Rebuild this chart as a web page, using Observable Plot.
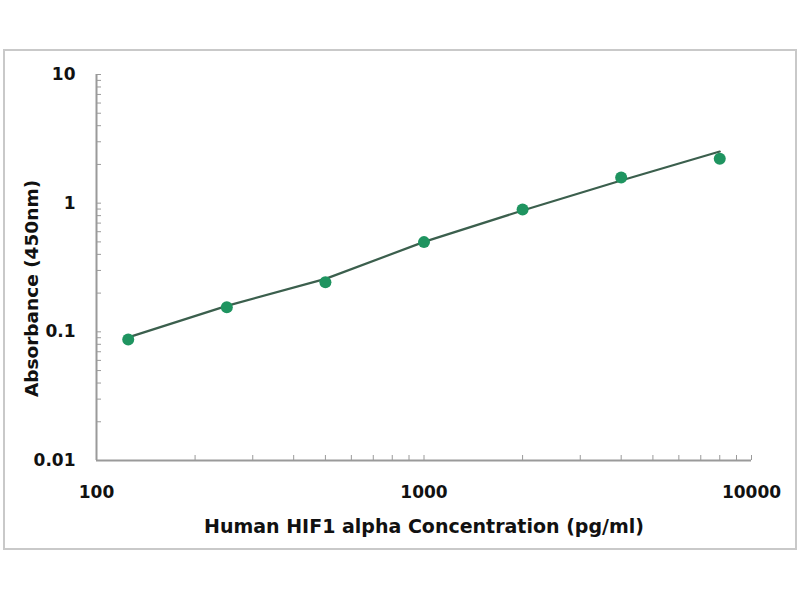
<!DOCTYPE html>
<html>
<head>
<meta charset="utf-8">
<script src="https://cdn.jsdelivr.net/npm/d3@7"></script>
<script src="https://cdn.jsdelivr.net/npm/@observablehq/plot@0.6"></script>
<style>
  html, body { margin: 0; padding: 0; background: #fff; }
  #wrap { position: relative; width: 800px; height: 600px; }
  #border { position: absolute; left: 3px; top: 49px; width: 790px; height: 497px; border: 2px solid #c9c9c9; }
  #chart { position: absolute; left: 0; top: 0; }
</style>
</head>
<body>
<div id="wrap"><div id="border"></div><div id="chart"></div></div>
<script>
// Measured standards
const concentration = [125, 250, 500, 1000, 2000, 4000, 8000];
const absorbance = [0.087, 0.155, 0.243, 0.498, 0.893, 1.58, 2.21];
// Fitted curve as drawn
const fitConcentration = [125, 250, 500, 1000, 2000, 4000, 8000];
const fitAbsorbance = [0.0905, 0.159, 0.258, 0.50, 0.877, 1.50, 2.52];

const xDomain = [100, 10000];
const yDomain = [0.01, 10];
const xTickValues = [100, 1000, 10000];
const xTickLabels = ["100", "1000", "10000"];
const yTickValues = [0.01, 0.1, 1, 10];
const yTickLabels = ["0.01", "0.1", "1", "10"];
const xMinor = [200,300,400,500,600,700,800,900,1000,2000,3000,4000,5000,6000,7000,8000,9000,10000];
const yMinor = [0.02,0.03,0.04,0.05,0.06,0.07,0.08,0.09,0.1,0.2,0.3,0.4,0.5,0.6,0.7,0.8,0.9,1,2,3,4,5,6,7,8,9,10];
const xTitle = "Human HIF1 alpha Concentration (pg/ml)";
const yTitle = "Absorbance (450nm)";

const points = concentration.map((c, i) => ({c, a: absorbance[i]}));
const fit = fitConcentration.map((c, i) => ({c, a: fitAbsorbance[i]}));

const W = 800, H = 600;
const mL = 96, mR = 49, mT = 74, mB = 140;
const frameW = W - mL - mR, frameH = H - mT - mB;
const axisColor = "#9a9a9a";

const chart = Plot.plot({
  width: W, height: H,
  marginLeft: mL, marginRight: mR, marginTop: mT, marginBottom: mB,
  style: { fontFamily: "'DejaVu Sans', sans-serif", fontWeight: "bold", background: "transparent", color: "#111" },
  x: { type: "log", domain: xDomain },
  y: { type: "log", domain: yDomain },
  marks: [
    Plot.axisX({ticks: xTickValues, tickFormat: (d) => xTickLabels[xTickValues.indexOf(d)], tickSize: 0, tickPadding: 25, fontSize: 17, label: null}),
    Plot.axisY({ticks: yTickValues, tickFormat: (d) => yTickLabels[yTickValues.indexOf(d)], tickSize: 0, tickPadding: 21, fontSize: 17, label: null}),
    Plot.tickY(yMinor, {y: d => d, stroke: axisColor, strokeWidth: 1, insetRight: frameW - 5}),
    Plot.tickX(xMinor, {x: d => d, stroke: axisColor, strokeWidth: 1, insetTop: frameH - 5}),
    Plot.ruleX([xDomain[0]], {stroke: axisColor, strokeWidth: 2}),
    Plot.ruleY([yDomain[0]], {stroke: axisColor, strokeWidth: 2}),
    Plot.line(fit, {x: "c", y: "a", stroke: "#3b5f4d", strokeWidth: 2.2}),
    Plot.dot(points, {x: "c", y: "a", r: 6, fill: "#1f9460", stroke: "none"}),
    Plot.text([xTitle], {frameAnchor: "bottom", dy: 72, text: d => d, fontSize: 19, fontWeight: "bold", fill: "#111"}),
    Plot.text([yTitle], {frameAnchor: "left", textAnchor: "middle", rotate: -90, dx: -64, dy: 21, text: d => d, fontSize: 18.5, fontWeight: "bold", fill: "#111"})
  ]
});
document.getElementById("chart").appendChild(chart);
</script>
</body>
</html>
